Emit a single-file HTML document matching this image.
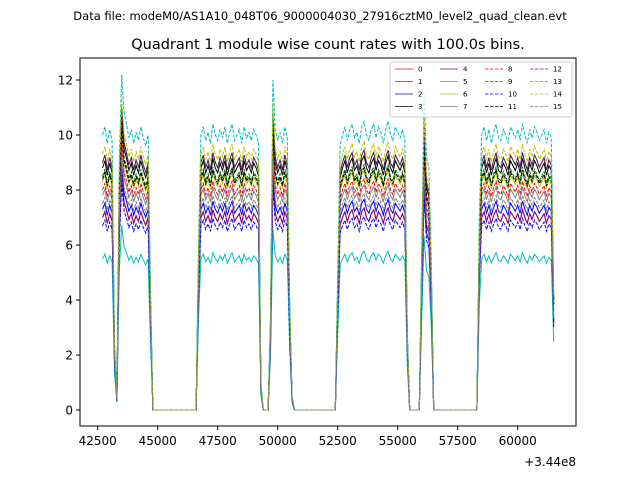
<!DOCTYPE html>
<html><head><meta charset="utf-8"><style>
body{margin:0;background:#fff;}
svg text{font-family:"DejaVu Sans","Liberation Sans",sans-serif;}
</style></head><body>
<svg id="chart" width="640" height="480" xmlns="http://www.w3.org/2000/svg">
<text x="320" y="20" font-size="11.5" text-anchor="middle">Data file: modeM0/AS1A10_048T06_9000004030_27916cztM0_level2_quad_clean.evt</text>
<text x="328" y="49" font-size="14.5" text-anchor="middle">Quadrant 1 module wise count rates with 100.0s bins.</text>
<g id="plot"></g>
<rect x="80" y="58" width="496" height="368" fill="none" stroke="#000" stroke-width="1"/>
<text x="576" y="466" font-size="12" text-anchor="end">+3.44e8</text>
<g id="legend"></g>
</svg>
<script>
const startTime = 42700;
const binSize = 100;
const profile = [1.00,1.03,0.97,1.02,0.98,0.25,0.05,0.92,1.22,1.08,1.04,
0.99,1.02,0.97,1.01,0.98,1.03,0.99,0.96,1.00,0.45,
0,0,0,0,0,0,0,0,0,0,0,0,0,0,0,0,0,0,0,0.6,
1.00,1.03,0.98,1.01,0.97,1.04,1.00,0.98,1.02,0.99,1.03,0.97,1.01,1.04,0.98,1.00,1.02,0.97,1.03,0.99,1.01,0.98,1.02,1.00,0.97,
0.1,0,0,0,0.35,1.2,1.02,0.98,1.01,0.97,1.03,0.99,0.4,0.05,
0,0,0,0,0,0,0,0,0,0,0,0,0,0,0,0,0,0,0.5,
0.96,1.00,1.03,0.98,1.02,1.04,0.99,1.01,0.97,1.03,1.05,1.00,0.98,1.02,1.04,0.99,1.03,1.01,0.97,1.02,1.05,1.00,0.98,1.03,1.01,0.99,1.02,0.98,
0.3,0,0,0,0,0,0.6,1.15,0.92,0.88,0.55,
0,0,0,0,0,0,0,0,0,0,0,0,0,0,0,0,0,0,0,0.7,
1.00,1.03,0.98,1.02,0.97,1.01,1.04,0.99,0.98,1.02,1.00,0.97,1.03,1.01,0.99,1.02,0.98,1.04,1.00,0.97,1.02,0.99,1.03,1.01,0.98,1.00,1.02,0.97,1.01,0.99,0.45];
const moduleLevels = [7.0,9.0,7.3,8.8,7.0,5.5,8.3,7.8,8.0,8.5,6.7,8.4,9.0,10.0,9.3,7.5];
const moduleNames = ["0","1","2","3","4","5","6","7","8","9","10","11","12","13","14","15"];
const xTicks = [42500,45000,47500,50000,52500,55000,57500,60000];
const yTicks = [0,2,4,6,8,10,12];
const colors = ["red","green","blue","black","purple","#00bfbf","#bfbf00","gray"];
const NS="http://www.w3.org/2000/svg";
const X0=41763,X1=62430,Y0=-0.58,Y1=12.8;
const xs=v=>80+(v-X0)/(X1-X0)*496;
const ys=v=>426-(v-Y0)/(Y1-Y0)*368;
const plot=document.getElementById('plot');
function mk(tag,attrs,parent){const e=document.createElementNS(NS,tag);for(const k in attrs)e.setAttribute(k,attrs[k]);parent.appendChild(e);return e;}
xTicks.forEach(t=>{
  const l=mk('line',{x1:xs(t),x2:xs(t),y1:426,y2:430,stroke:'#000'},plot);
  
  
  const tx=mk('text',{x:xs(t),y:445,'font-size':12,'text-anchor':'middle'},plot);tx.textContent=t;
  
  
});
yTicks.forEach(t=>{
  const l=mk('line',{x1:76,x2:80,y1:ys(t),y2:ys(t),stroke:'#000'},plot);
  
  
  const tx=mk('text',{x:73,y:ys(t)+4.5,'font-size':12,'text-anchor':'end'},plot);tx.textContent=t;
  
  
});
moduleLevels.forEach((lv,s)=>{
  const pts=profile.map((p,i)=>xs(startTime+i*binSize).toFixed(1)+','+ys(lv*p).toFixed(1)).join(' ');
  const attrs={points:pts,fill:'none',stroke:colors[s%8],'stroke-width':1};
  if(s>=8)attrs['stroke-dasharray']='3.5,1.5';
  const pl=mk('polyline',attrs,plot);
  
  
});
const lg=document.getElementById('legend');
const box=mk('rect',{x:390,y:62,width:182,height:55,fill:'#fff',stroke:'#ccc','fill-opacity':0.8,rx:2},lg);
moduleNames.forEach((n,s)=>{
  const col=Math.floor(s/4),row=s%4;
  const x=395+col*45,y=69+row*12.5;
  const a={x1:x,x2:x+18,y1:y,y2:y,stroke:colors[s%8],'stroke-width':0.8};
  if(s>=8)a['stroke-dasharray']='3.5,1.5';
  const l=mk('line',a,lg);
  
  
  const t=mk('text',{x:x+23,y:y+2.5,'font-size':7},lg);t.textContent=n;
  
  
});
</script>
</body></html>
